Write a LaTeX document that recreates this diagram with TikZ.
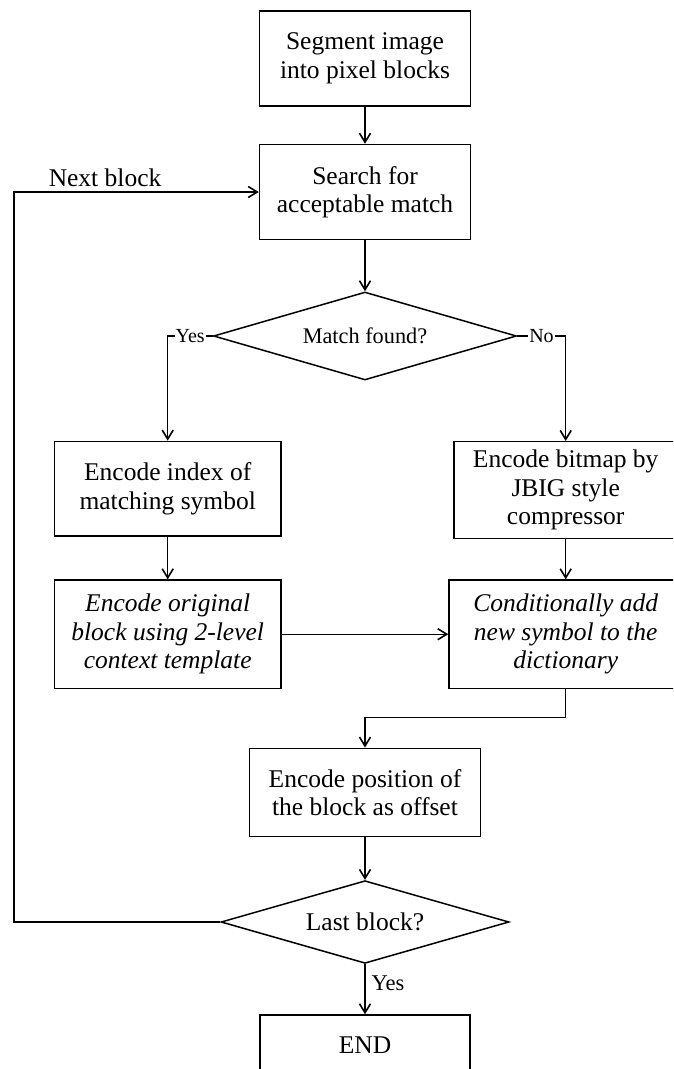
\documentclass[tikz,border=0pt]{standalone}
\usepackage{fontspec}
\setmainfont{Liberation Serif}
\usetikzlibrary{shapes.geometric,arrows.meta}
\begin{document}
\begin{tikzpicture}[x=1pt,y=-1pt,
  every node/.style={font=\fontsize{25.5}{28.5}\selectfont},
  procbox/.style={draw, line width=1.5pt, inner sep=0pt, align=center},
  decision/.style={draw, diamond, line width=1.5pt, inner sep=0pt, align=center},
  arr/.style={line width=1.4pt, -{Straight Barb[length=9pt,width=11pt,line width=1.6pt]}},
  lab/.style={fill=white, inner sep=1pt, font=\fontsize{20}{22}\selectfont}
]
\useasboundingbox (0,0) rectangle (673,1069);
\clip (0,0) rectangle (673,1069);

% process steps
\node[procbox, minimum width=211pt, minimum height=95pt] (seg) at (365,58.3)
  {Segment image\\into pixel blocks};
\node[procbox, minimum width=211pt, minimum height=95pt] (search) at (365,192)
  {Search for\\acceptable match};
\node[decision, aspect=3.44, minimum width=303pt, minimum height=88pt,
      font=\fontsize{22.3}{25}\selectfont] (found) at (365,336) {Match found?};
\node[procbox, minimum width=226.5pt, minimum height=94.7pt] (index) at (167.7,488.7)
  {Encode index of\\matching symbol};
\node[procbox, minimum width=223pt, minimum height=96.6pt] (bitmap) at (565.7,490)
  {Encode bitmap by\\JBIG style\\compressor};
\node[procbox, minimum width=226.5pt, minimum height=108.3pt, font=\fontsize{25.5}{28.5}\selectfont\itshape] (orig) at (167.7,634.2)
  {Encode original\\block using 2-level\\context template};
\node[procbox, minimum width=233.4pt, minimum height=108.3pt, font=\fontsize{25.5}{28.5}\selectfont\itshape] (dict) at (565.7,634.2)
  {Conditionally add\\new symbol to the\\dictionary};
\node[procbox, minimum width=231pt, minimum height=88.4pt] (pos) at (365,792.5)
  {Encode position of\\the block as offset};
\node[decision, aspect=3.48, minimum width=288pt, minimum height=82.7pt] (last) at (365,922)
  {Last block?};
\node[procbox, minimum width=210pt, minimum height=60pt] (stop) at (365,1045) {END};

\coordinate (loop) at (14,192);

% connectors
\draw[arr] (seg) -- (search);
\draw[arr] (search) -- (found);
\draw[arr] (found.west) -| node[lab, pos=0.25] {Yes} (index.north);
\draw[arr] (found.east) -| node[lab, pos=0.25] {No} (bitmap.north);
\draw[arr] (index) -- (orig);
\draw[arr] (bitmap) -- (dict);
\draw[arr] (orig) -- (dict);
\draw[arr] (dict.south) -- ++(0,28.4) -| (pos.north);
\draw[arr] (pos) -- (last);
\draw[arr] (last) -- node[right, pos=0.39, inner sep=6pt, font=\fontsize{22.5}{25}\selectfont] {Yes} (stop);
\draw[arr] (last.west) -- (last.west -| loop) |- node[above, pos=0.686, inner sep=5pt] {Next block} (search.west);
\end{tikzpicture}
\end{document}
